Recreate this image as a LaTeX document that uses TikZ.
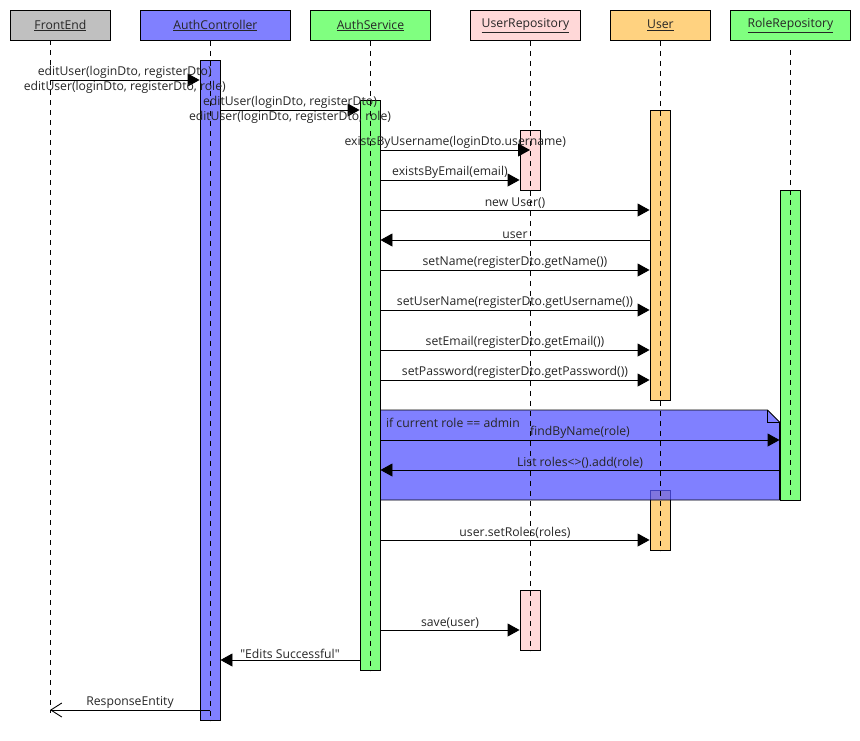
\documentclass[tikz,border=0pt]{standalone}
\usepackage{fontspec}
\setmainfont{Open Sans}
\usetikzlibrary{arrows.meta}

\definecolor{feGray}{HTML}{C0C0C0}
\definecolor{ctlBlue}{HTML}{8080FF}
\definecolor{altBlue}{HTML}{5656FF}
\definecolor{svcGreen}{HTML}{80FF80}
\definecolor{repPink}{HTML}{FFD8D8}
\definecolor{usrOrange}{HTML}{FFD280}

\begin{document}
\begin{tikzpicture}[x=1pt, y=-1pt, line width=0.9pt, >={Triangle[length=12pt,width=13pt]},
    font=\fontsize{12.2}{14}\selectfont, text=black!85]

  \tikzstyle{head}=[draw=black, anchor=north west, minimum height=30pt, inner sep=0pt]
  \tikzstyle{bar}=[draw=black, anchor=north, minimum width=20pt, inner sep=0pt]
  \tikzstyle{life}=[dash pattern=on 5pt off 5pt]
  \tikzstyle{call}=[->]
  \tikzstyle{answer}=[-{Straight Barb[length=11pt,width=14pt]}]
  \tikzstyle{lbl}=[inner sep=1.2pt]

  \useasboundingbox (0,0) rectangle (860,740);

  \node[head, fill=feGray, minimum width=100pt]    (fe)   at (10,10)  {\underline{FrontEnd}};
  \node[head, fill=ctlBlue, minimum width=150pt]   (ctl)  at (140,10) {\underline{AuthController}};
  \node[head, fill=svcGreen, minimum width=120pt]  (svc)  at (310,10) {\underline{AuthService}};
  \node[head, fill=repPink, minimum width=110pt]   (urep) at (470,10) {\underline{UserRepository}};
  \node[head, fill=usrOrange, minimum width=100pt] (usr)  at (610,10) {\underline{User}};
  \node[head, fill=svcGreen, minimum width=120pt]  (rrep) at (730,10) {\underline{RoleRepository}};

  \node[bar, fill=ctlBlue, minimum height=660pt]   (ctlA)  at (210,60)  {};
  \node[bar, fill=svcGreen, minimum height=570pt]  (svcA)  at (370,100) {};
  \node[bar, fill=repPink, minimum height=60pt]    (urepA) at (530,130) {};
  \node[bar, fill=repPink, minimum height=60pt]    (urepB) at (530,590) {};
  \node[bar, fill=usrOrange, minimum height=290pt] (usrA)  at (660,110) {};
  \node[bar, fill=usrOrange, minimum height=60pt]  (usrB)  at (660,490) {};
  \node[bar, fill=svcGreen, minimum height=310pt]  (rrepA) at (790,190) {};

  \coordinate (altNW) at (svcA.east |- 0,410);
  \coordinate (altNE) at (rrepA.west |- 0,410);
  \coordinate (altSE) at (rrepA.west |- 0,500);
  \draw[fill=altBlue, fill opacity=0.75] (altNW) -- ([xshift=-12pt]altNE) -- ([yshift=-12pt]altNE)
    -- (altSE) -- (altNW |- altSE) -- cycle;
  \draw ([xshift=-12pt]altNE) |- ([yshift=-12pt]altNE);
  \node[lbl, anchor=west] (altTxt) at ([xshift=4pt,yshift=-13pt]altNW) {if current role == admin};

  \coordinate (feL) at (50,40);
  \coordinate (feEnd) at (50,713);
  \draw[life] (feL) -- (feEnd);
  \draw[life] (ctlA.north |- ctl.south) -- (ctlA.south);
  \draw[life] (svcA.north |- svc.south) -- (svcA.south);
  \draw[life] (urepA.north |- urep.south) -- (urepB.south);
  \draw[life] (usrA.north |- usr.south) -- (usrB.south);
  \draw[life] (rrepA.north |- 0,50) -- (rrepA.south);

  \draw[call] (feL |- 0,80) -- node[lbl, above] {editUser(loginDto, registerDto)}
    node[lbl, below] {editUser(loginDto, registerDto, role)} (ctlA.west |- 0,80);
  \draw[call] (ctlA.east |- 0,110) -- node[lbl, above] {editUser(loginDto, registerDto)}
    node[lbl, below] {editUser(loginDto, registerDto, role)} (svcA.west |- 0,110);
  \draw[call] (svcA.east |- 0,150) -- node[lbl, above] {existsByUsername(loginDto.username)} (urepA.north |- 0,150);
  \draw[call] (svcA.east |- 0,180) -- node[lbl, above] {existsByEmail(email)} (urepA.west |- 0,180);
  \draw[call] (svcA.east |- 0,210) -- node[lbl, above] {new User()} (usrA.west |- 0,210);
  \draw[call] (usrA.west |- 0,240) -- node[lbl, above] {user} (svcA.east |- 0,240);
  \draw[call] (svcA.east |- 0,270) -- node[lbl, above] {setName(registerDto.getName())} (usrA.west |- 0,270);
  \draw[call] (svcA.east |- 0,310) -- node[lbl, above] {setUserName(registerDto.getUsername())} (usrA.west |- 0,310);
  \draw[call] (svcA.east |- 0,350) -- node[lbl, above] {setEmail(registerDto.getEmail())} (usrA.west |- 0,350);
  \draw[call] (svcA.east |- 0,380) -- node[lbl, above] {setPassword(registerDto.getPassword())} (usrA.west |- 0,380);
  \draw[call] (svcA.east |- 0,440) -- node[lbl, above] {findByName(role)} (rrepA.west |- 0,440);
  \draw[call] (rrepA.west |- 0,470) -- node[lbl, above] {List roles<>().add(role)} (svcA.east |- 0,470);
  \draw[call] (svcA.east |- 0,540) -- node[lbl, above] {user.setRoles(roles)} (usrB.west |- 0,540);
  \draw[call] (svcA.east |- 0,630) -- node[lbl, above] {save(user)} (urepB.west |- 0,630);
  \draw[call] (svcA.west |- 0,660) -- node[lbl, above] {\textquotedbl Edits Successful\textquotedbl} (ctlA.east |- 0,660);
  \draw[answer] (ctlA.north |- 0,710) -- node[lbl, above] {ResponseEntity} (feL |- 0,710);
\end{tikzpicture}
\end{document}
